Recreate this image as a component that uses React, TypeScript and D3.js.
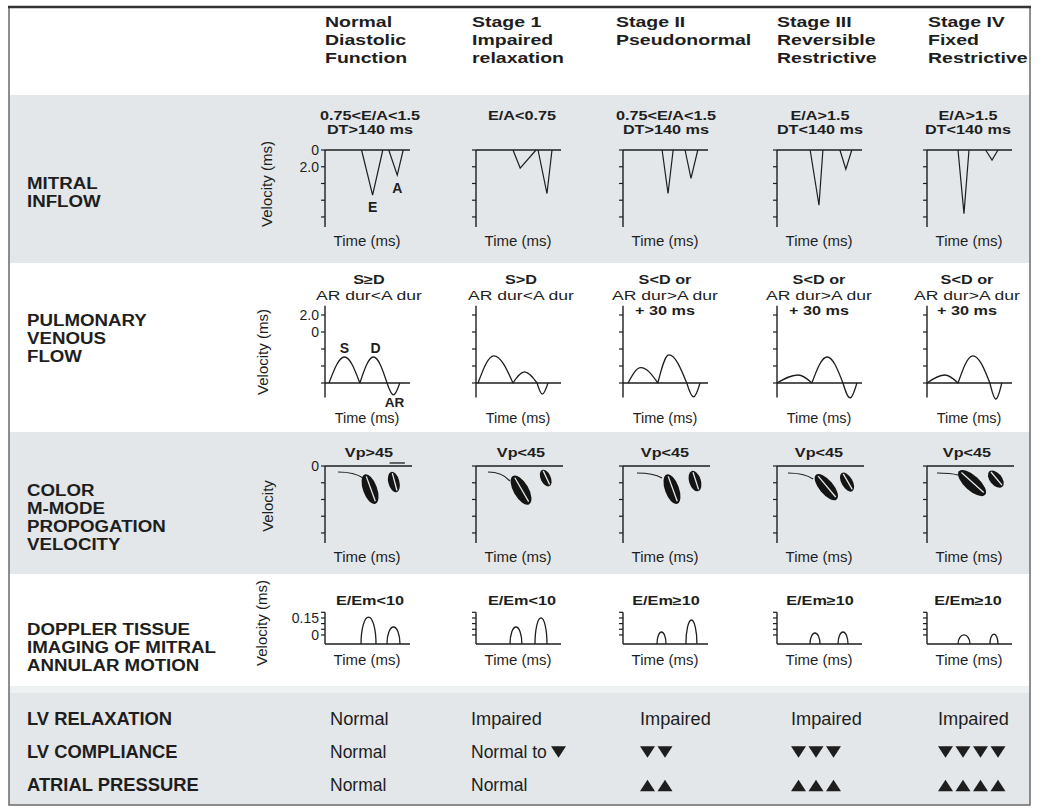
import React from "react";
import * as d3 from "d3";

// ---------- data ----------
const stageTitles: string[][] = [
  ["Normal", "Diastolic", "Function"],
  ["Stage 1", "Impaired", "relaxation"],
  ["Stage II", "Pseudonormal"],
  ["Stage III", "Reversible", "Restrictive"],
  ["Stage IV", "Fixed", "Restrictive"],
];
const rowLabels: string[][] = [
  ["MITRAL", "INFLOW"],
  ["PULMONARY", "VENOUS", "FLOW"],
  ["COLOR", "M-MODE", "PROPOGATION", "VELOCITY"],
  ["DOPPLER TISSUE", "IMAGING OF MITRAL", "ANNULAR MOTION"],
];
const mitralCriteria: string[][] = [
  ["0.75<E/A<1.5", "DT>140 ms"],
  ["E/A<0.75"],
  ["0.75<E/A<1.5", "DT>140 ms"],
  ["E/A>1.5", "DT<140 ms"],
  ["E/A>1.5", "DT<140 ms"],
];
// [start time, peak time, end time, peak velocity] (velocity downward)
const mitralE: number[][] = [
  [43, 56, 68, 2.7],
  [43.5, 52, 70.6, 1.08],
  [46, 53, 59, 2.6],
  [39, 49.4, 54, 3.3],
  [36.5, 43.5, 49.4, 3.8],
];
const mitralA: number[][] = [
  [75, 85, 92, 1.5],
  [73, 83.5, 89.4, 2.6],
  [73, 80, 88, 1.7],
  [74, 81, 88, 1.15],
  [69, 76.5, 83.5, 0.6],
];
const mitralTicks = [0, 1, 2, 3, 4];
const mitralTickLabels = ["0", "2.0", "", "", ""];

const pvCriteria: string[][] = [
  ["S≥D", "AR dur<A dur"],
  ["S>D", "AR dur<A dur"],
  ["S<D or", "AR dur>A dur", "+ 30 ms"],
  ["S<D or", "AR dur>A dur", "+ 30 ms"],
  ["S<D or", "AR dur>A dur", "+ 30 ms"],
];
// [start, peak time, end, amplitude]
const pvS: number[][] = [
  [4.7, 22.9, 41, 1.53],
  [2.4, 21, 43.5, 1.6],
  [6, 21, 41, 0.9],
  [0, 25, 41, 0.47],
  [0, 21, 36.5, 0.47],
];
const pvD: number[][] = [
  [41, 57, 73, 1.53],
  [43.5, 57, 71.8, 0.65],
  [41, 54, 75, 1.65],
  [41, 59, 77.6, 1.53],
  [36.5, 54, 74, 1.6],
];
const pvAR: number[][] = [
  [73, 80.5, 88, -0.7],
  [71.8, 78, 84.7, -0.65],
  [75, 83, 90.6, -0.82],
  [77.6, 86, 94, -0.88],
  [74, 81, 88, -0.94],
];
const pvTicks = [0, 1, 2, 3, 4];
const pvTickLabels = ["", "", "", "0", "2.0"];

const vpCriteria = ["Vp>45", "Vp<45", "Vp<45", "Vp<45", "Vp<45"];
// flow line [t0, v0, t1, v1]
const mmFlow: number[][] = [
  [15.3, 0.36, 44.7, 0.72],
  [14.1, 0.36, 40, 0.9],
  [16.5, 0.42, 45.9, 0.72],
  [12.9, 0.42, 42.4, 0.78],
  [11.8, 0.42, 36.5, 0.54],
];
// early filling jet [t, v, semi-major (v units), semi-minor (v units), tilt deg]
const mmEarly: number[][] = [
  [53, 1.38, 0.93, 0.42, -20],
  [53, 1.44, 0.97, 0.45, -30],
  [57.6, 1.38, 0.93, 0.42, -20],
  [58, 1.26, 0.96, 0.42, -40],
  [53, 1.02, 1.05, 0.45, -48],
];
// atrial jet
const mmAtrial: number[][] = [
  [81, 0.96, 0.63, 0.33, -15],
  [82, 0.72, 0.53, 0.3, -25],
  [84.7, 0.9, 0.63, 0.35, -18],
  [82.4, 0.96, 0.63, 0.33, -30],
  [81, 0.78, 0.6, 0.36, -40],
];
const mmNormalMark = [76, 94, -0.18];
const mmTicks = [0, 1, 2, 3, 4];
const mmTickLabels = ["0", "", "", "", ""];

const dtiCriteria = ["E/Em<10", "E/Em<10", "E/Em≥10", "E/Em≥10", "E/Em≥10"];
// [start, end, peak velocity]
const dtiE: number[][] = [
  [42.4, 60, 0.158],
  [40, 54, 0.07],
  [40, 50.6, 0.026],
  [38.8, 50.6, 0.017],
  [36.5, 50.6, 0.0],
];
const dtiA: number[][] = [
  [72.9, 88.2, 0.07],
  [69.4, 83.5, 0.15],
  [74, 87, 0.132],
  [71.8, 83.5, 0.026],
  [74, 83.5, 0.008],
];
const dtiBase = -0.08;
const dtiTicks = [0, 0.05, 0.1, 0.15, 0.2];
const dtiTickLabels = ["0", "", "", "0.15", ""];

const summaryLabels = ["LV RELAXATION", "LV COMPLIANCE", "ATRIAL PRESSURE"];
const relaxation = ["Normal", "Impaired", "Impaired", "Impaired", "Impaired"];
const complianceText = ["Normal", "Normal to", "", "", ""];
const complianceDown = [0, 1, 2, 3, 4];
const pressureText = ["Normal", "Normal", "", "", ""];
const pressureUp = [0, 0, 2, 3, 4];

// ---------- layout ----------
const W = 1038;
const H = 812;
const INK = "#1e1e1e";
const GRAY = "#e3e7e9";
const FONT = "'Liberation Sans', Arial, Helvetica, sans-serif";
const AX = [325, 476, 623, 777, 927];
const PW = 85;
const HEAD_X = [325, 472, 616, 777, 928];
const COND_X = [370, 522, 666, 820, 968];
const SUM_X = [330, 471, 640, 791, 938];

function Txt({ x, y, size, bold = false, anchor = "start", sx = 1, children, fill = INK }: any) {
  return (
    <text
      transform={`translate(${x},${y}) scale(${sx},1)`}
      fontSize={size}
      fontWeight={bold ? "bold" : "normal"}
      textAnchor={anchor}
      fill={fill}
    >
      {children}
    </text>
  );
}

function sineHump(p: d3.Path, x0: number, xp: number, x1: number, yb: number, yp: number) {
  const d1 = xp - x0;
  const d2 = x1 - xp;
  p.moveTo(x0, yb);
  p.bezierCurveTo(x0 + 0.326 * d1, yb + 0.512 * (yp - yb), x0 + 0.638 * d1, yp, xp, yp);
  p.bezierCurveTo(xp + 0.362 * d2, yp, xp + 0.674 * d2, yb + 0.512 * (yp - yb), x1, yb);
}

function arch(p: d3.Path, x0: number, x1: number, yb: number, yp: number) {
  const xm = (x0 + x1) / 2;
  const k = 0.5523;
  p.moveTo(x0, yb);
  p.bezierCurveTo(x0, yb + k * (yp - yb), xm - k * (xm - x0), yp, xm, yp);
  p.bezierCurveTo(xm + k * (x1 - xm), yp, x1, yb + k * (yp - yb), x1, yb);
}

function YAxis({ x0, y, ticks, labels, top, bottom, showLabels, labelSize = 14 }: any) {
  return (
    <g>
      <line x1={x0} x2={x0} y1={y(top)} y2={y(bottom)} stroke={INK} strokeWidth={1.4} />
      {ticks.map((t: number, k: number) => (
        <g key={k}>
          <line x1={x0 - 4} x2={x0} y1={y(t)} y2={y(t)} stroke={INK} strokeWidth={1.2} />
          {showLabels && labels[k] ? (
            <Txt x={x0 - 6} y={y(t) + 5} size={labelSize} anchor="end">
              {labels[k]}
            </Txt>
          ) : null}
        </g>
      ))}
    </g>
  );
}

function MitralPanel({ i }: { i: number }) {
  const x0 = AX[i];
  const x = d3.scaleLinear().domain([0, 100]).range([x0, x0 + PW]);
  const y = d3.scaleLinear().domain([0, 4.6]).range([150, 227]);
  const line = d3.line<number[]>().x((d) => x(d[0])).y((d) => y(d[1]));
  const e = mitralE[i];
  const a = mitralA[i];
  return (
    <g>
      {mitralCriteria[i].map((s, k) => (
        <Txt key={k} x={COND_X[i]} y={119.5 + k * 14} size={12.5} bold anchor="middle" sx={1.3}>
          {s}
        </Txt>
      ))}
      <YAxis x0={x0} y={y} ticks={mitralTicks} labels={mitralTickLabels} top={0} bottom={4.6} showLabels={i === 0} />
      <line x1={x0} x2={x0 + PW} y1={y(0)} y2={y(0)} stroke={INK} strokeWidth={1.5} />
      <path d={line([[e[0], 0], [e[1], e[3]], [e[2], 0]]) || ""} fill="none" stroke={INK} strokeWidth={1.2} />
      <path d={line([[a[0], 0], [a[1], a[3]], [a[2], 0]]) || ""} fill="none" stroke={INK} strokeWidth={1.2} />
      {i === 0 ? (
        <g>
          <Txt x={x(e[1])} y={y(e[3]) + 17} size={14} bold anchor="middle">E</Txt>
          <Txt x={x(a[1])} y={y(a[3]) + 18} size={14} bold anchor="middle">A</Txt>
        </g>
      ) : null}
      <Txt x={x0 + 42} y={246} size={15} anchor="middle">Time (ms)</Txt>
    </g>
  );
}

function PVPanel({ i }: { i: number }) {
  const x0 = AX[i];
  const x = d3.scaleLinear().domain([0, 100]).range([x0, x0 + PW]);
  const y = d3.scaleLinear().domain([0, 1]).range([383, 366]);
  const p = d3.path();
  const s = pvS[i];
  const d = pvD[i];
  const ar = pvAR[i];
  sineHump(p, x(s[0]), x(s[1]), x(s[2]), y(0), y(s[3]));
  sineHump(p, x(d[0]), x(d[1]), x(d[2]), y(0), y(d[3]));
  sineHump(p, x(ar[0]), x(ar[1]), x(ar[2]), y(0), y(ar[3]));
  const lines = pvCriteria[i];
  return (
    <g>
      {lines.map((t, k) => (
        <Txt
          key={k}
          x={COND_X[i] - 1}
          y={284 + k * 15.5}
          size={k === 1 ? 13.5 : 12.5}
          bold={k !== 1}
          anchor="middle"
          sx={1.3}
        >
          {t}
        </Txt>
      ))}
      <YAxis x0={x0} y={y} ticks={pvTicks} labels={pvTickLabels} top={4.55} bottom={-0.85} showLabels={i === 0} />
      <line x1={x0} x2={x0 + PW} y1={y(0)} y2={y(0)} stroke={INK} strokeWidth={1.5} />
      <path d={p.toString()} fill="none" stroke={INK} strokeWidth={1.3} />
      {i === 0 ? (
        <g>
          <Txt x={x(s[1])} y={y(s[3]) - 4} size={14} bold anchor="middle">S</Txt>
          <Txt x={x(d[1]) + 2} y={y(d[3]) - 4} size={14} bold anchor="middle">D</Txt>
          <Txt x={x(ar[1]) + 1} y={y(ar[3]) + 12} size={13.5} bold anchor="middle">AR</Txt>
        </g>
      ) : null}
      <Txt x={x0 + 42} y={423} size={14.5} anchor="middle">Time (ms)</Txt>
    </g>
  );
}

function MMPanel({ i }: { i: number }) {
  const x0 = AX[i];
  const x = d3.scaleLinear().domain([0, 100]).range([x0, x0 + PW]);
  const y = d3.scaleLinear().domain([0, 4.6]).range([466, 543]);
  const k = y(1) - y(0);
  const f = mmFlow[i];
  const fp = d3.path();
  const fx0 = x(f[0]), fy0 = y(f[1]), fx1 = x(f[2]), fy1 = y(f[3]);
  fp.moveTo(fx0, fy0);
  fp.quadraticCurveTo(fx0 + 0.65 * (fx1 - fx0), fy0, fx1, fy1);
  const jets = [mmEarly[i], mmAtrial[i]];
  return (
    <g>
      <Txt x={COND_X[i] - 1} y={457} size={12.5} bold anchor="middle" sx={1.3}>
        {vpCriteria[i]}
      </Txt>
      <YAxis x0={x0} y={y} ticks={mmTicks} labels={mmTickLabels} top={0} bottom={4.6} showLabels={i === 0} />
      <line x1={x0} x2={x0 + PW + 2} y1={y(0)} y2={y(0)} stroke={INK} strokeWidth={1.5} />
      {i === 0 ? (
        <line
          x1={x(mmNormalMark[0])}
          x2={x(mmNormalMark[1])}
          y1={y(mmNormalMark[2])}
          y2={y(mmNormalMark[2])}
          stroke={INK}
          strokeWidth={1.3}
        />
      ) : null}
      <path d={fp.toString()} fill="none" stroke={INK} strokeWidth={1.1} />
      {jets.map((j, n) => (
        <g key={n} transform={`translate(${x(j[0])},${y(j[1])}) rotate(${j[4]})`}>
          <ellipse rx={j[3] * k} ry={j[2] * k} fill="#141414" />
          <line
            x1={0.8}
            x2={0.8}
            y1={-j[2] * k * 0.85}
            y2={j[2] * k * 0.85}
            stroke={GRAY}
            strokeWidth={1.3}
          />
        </g>
      ))}
      <Txt x={x0 + 42} y={562} size={15} anchor="middle">Time (ms)</Txt>
    </g>
  );
}

function DTIPanel({ i }: { i: number }) {
  const x0 = AX[i];
  const x = d3.scaleLinear().domain([0, 100]).range([x0, x0 + PW]);
  const y = d3.scaleLinear().domain([dtiBase, 0.2]).range([644, 612.3]);
  const p = d3.path();
  const e = dtiE[i];
  const a = dtiA[i];
  arch(p, x(e[0]), x(e[1]), y(dtiBase), y(e[2]));
  arch(p, x(a[0]), x(a[1]), y(dtiBase), y(a[2]));
  return (
    <g>
      <Txt x={COND_X[i]} y={605} size={12.5} bold anchor="middle" sx={1.3}>
        {dtiCriteria[i]}
      </Txt>
      <YAxis x0={x0} y={y} ticks={dtiTicks} labels={dtiTickLabels} top={0.2} bottom={dtiBase} showLabels={i === 0} />
      <line x1={x0} x2={x0 + PW} y1={y(dtiBase)} y2={y(dtiBase)} stroke={INK} strokeWidth={1.5} />
      <path d={p.toString()} fill="none" stroke={INK} strokeWidth={1.3} />
      <Txt x={x0 + 42} y={665} size={15} anchor="middle">Time (ms)</Txt>
    </g>
  );
}

function Triangles({ x, y, n, down }: { x: number; y: number; n: number; down: boolean }) {
  const w = 15;
  const h = 11.5;
  const pitch = 17.5;
  const items = d3.range(n);
  return (
    <g>
      {items.map((k) => {
        const cx = x + w / 2 + k * pitch;
        const pts = down
          ? [[cx - w / 2, y - h / 2], [cx + w / 2, y - h / 2], [cx, y + h / 2]]
          : [[cx - w / 2, y + h / 2], [cx + w / 2, y + h / 2], [cx, y - h / 2]];
        return <path key={k} d={(d3.line()(pts as [number, number][]) || "") + "Z"} fill={INK} />;
      })}
    </g>
  );
}

export default function App() {
  const cols = d3.range(5);
  const rowLabelY = [
    [189, 207],
    [326, 344, 362],
    [496, 514, 532, 550],
    [635, 653, 671],
  ];
  const sumY = [725, 758, 791];
  return (
    <svg
      width={W}
      height={H}
      style={{ display: "block", position: "absolute", left: 0, top: 0, fontFamily: FONT }}
      fontFamily={FONT}
    >
      <rect x={0} y={0} width={W} height={H} fill="#ffffff" />
      {/* bands */}
      <rect x={9} y={95} width={1021} height={168} fill={GRAY} />
      <rect x={9} y={432} width={1021} height={142} fill={GRAY} />
      <rect x={9} y={686} width={1021} height={7} fill="#eef1f2" />
      <rect x={9} y={693} width={1021} height={112} fill={GRAY} />
      {/* frame */}
      <rect x={9} y={7} width={1021} height={798} fill="none" stroke="#6a6a6a" strokeWidth={1.5} />
      <line x1={8} x2={1031} y1={7} y2={7} stroke="#333" strokeWidth={2.5} />

      {/* header */}
      {stageTitles.map((lines, i) =>
        lines.map((s, k) => (
          <Txt key={`${i}-${k}`} x={HEAD_X[i]} y={26.7 + k * 18.3} size={15} bold sx={1.3}>
            {s}
          </Txt>
        ))
      )}

      {/* row labels */}
      {rowLabels.map((lines, r) =>
        lines.map((s, k) => (
          <Txt key={`${r}-${k}`} x={27} y={rowLabelY[r][k]} size={17} bold sx={1.1}>
            {s}
          </Txt>
        ))
      )}

      {/* vertical axis titles */}
      <text transform="translate(272,184) rotate(-90)" fontSize={15} textAnchor="middle" fill={INK}>Velocity (ms)</text>
      <text transform="translate(268,352) rotate(-90)" fontSize={15} textAnchor="middle" fill={INK}>Velocity (ms)</text>
      <text transform="translate(273,506) rotate(-90)" fontSize={15} textAnchor="middle" fill={INK}>Velocity</text>
      <text transform="translate(267,623) rotate(-90)" fontSize={15} textAnchor="middle" fill={INK}>Velocity (ms)</text>

      {cols.map((i) => (
        <g key={i}>
          <MitralPanel i={i} />
          <PVPanel i={i} />
          <MMPanel i={i} />
          <DTIPanel i={i} />
        </g>
      ))}

      {/* summary */}
      {summaryLabels.map((s, k) => (
        <Txt key={s} x={27} y={sumY[k]} size={18} bold sx={1.02}>
          {s}
        </Txt>
      ))}
      {cols.map((i) => (
        <g key={`sum${i}`}>
          <Txt x={SUM_X[i]} y={sumY[0]} size={17.5} sx={1.04}>{relaxation[i]}</Txt>
          {complianceText[i] ? (
            <Txt x={SUM_X[i]} y={sumY[1]} size={17.5}>{complianceText[i]}</Txt>
          ) : null}
          {complianceDown[i] > 0 ? (
            <Triangles x={complianceText[i] ? SUM_X[i] + 80 : SUM_X[i]} y={752} n={complianceDown[i]} down />
          ) : null}
          {pressureText[i] ? (
            <Txt x={SUM_X[i]} y={sumY[2]} size={17.5}>{pressureText[i]}</Txt>
          ) : null}
          {pressureUp[i] > 0 ? <Triangles x={SUM_X[i]} y={785.5} n={pressureUp[i]} down={false} /> : null}
        </g>
      ))}
    </svg>
  );
}
